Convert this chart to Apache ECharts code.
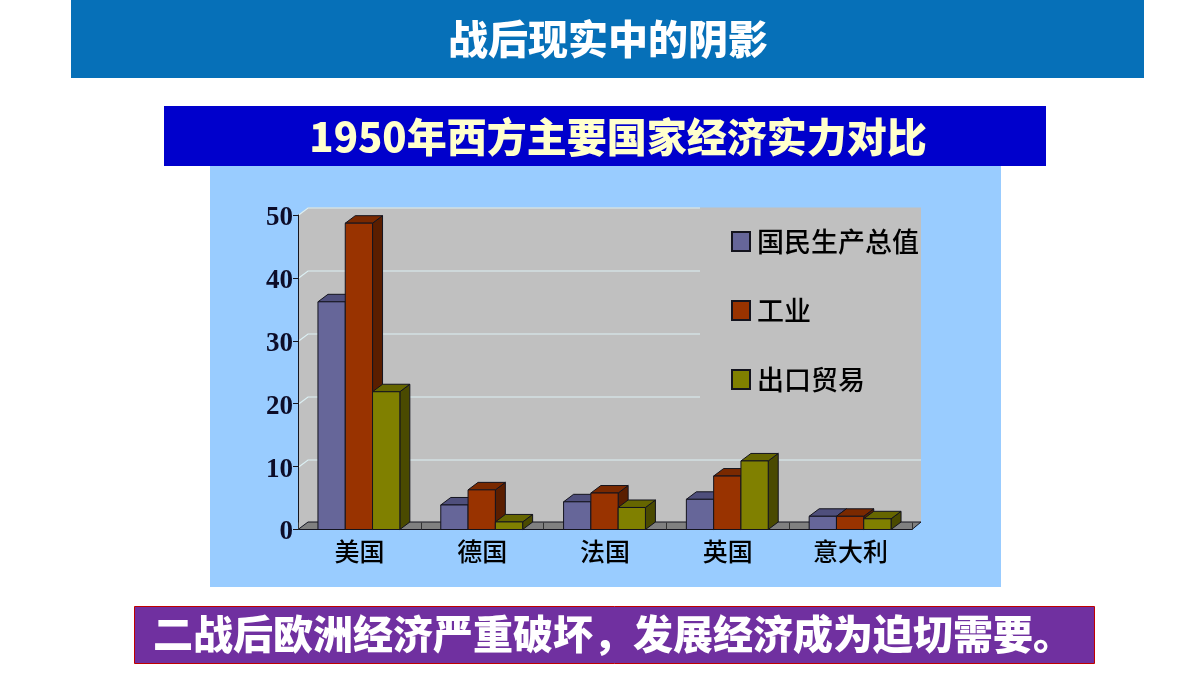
<!DOCTYPE html>
<html>
<head>
<meta charset="utf-8">
<style>html,body{margin:0;padding:0;background:#fff}#c{width:1200px;height:675px}</style>
<script src="https://cdn.jsdelivr.net/npm/echarts@6/dist/echarts.min.js"></script>
</head>
<body>
<div id="c"></div>
<script>
const headline = '战后现实中的阴影';
const subhead = '1950年西方主要国家经济实力对比';
const footer = '二战后欧洲经济严重破坏，发展经济成为迫切需要。';
const categories = ['美国', '德国', '法国', '英国', '意大利'];
const gnp = [36.2, 3.9, 4.4, 4.8, 2.1];
const industry = [48.7, 6.3, 5.8, 8.5, 2.1];
const exportsTrade = [21.9, 1.2, 3.5, 10.9, 1.7];
const seriesNames = ['国民生产总值', '工业', '出口贸易'];
const yTicks = [0, 10, 20, 30, 40, 50];

const CJK = '"Noto Sans CJK SC","Noto Sans",sans-serif';
const depthX = 10, depthY = 7.5, wallRight = 921, maskLeft = 700, maskAbove = 10;
const faces = [
  { front: '#666699', top: '#4f4f7c', side: '#3f3f66' },
  { front: '#993300', top: '#7a2900', side: '#5a1e00' },
  { front: '#808000', top: '#666600', side: '#4a4a00' }
];
const outline = '#14141e';

function poly(points, fill, stroke, width) {
  return { type: 'polygon', shape: { points }, style: { fill, stroke: stroke || null, lineWidth: width || 0 } };
}

function renderWall(params, api) {
  const o = api.coord([0, 0]), t = api.coord([0, 50]);
  const left = params.coordSys.x, right = left + params.coordSys.width;
  const y0 = o[1], y1 = t[1];
  return { type: 'group', children: [
    poly([[left, y1], [left + depthX, y1 - depthY], [wallRight, y1 - depthY], [wallRight, y0 - depthY], [left + depthX, y0 - depthY], [left, y0]], '#c0c0c0'),
    poly([[left, y0], [left + depthX, y0 - depthY], [wallRight, y0 - depthY], [right, y0]], '#808080', outline, 1)
  ]};
}

function renderGrid(params, api) {
  const v = api.value(1);
  const y = Math.round(api.coord([0, v])[1]) + 0.5;
  const left = params.coordSys.x;
  const end = v > maskAbove ? maskLeft : wallRight;
  return { type: 'polyline', shape: { points: [[left, y], [left + depthX, y - depthY], [end, y - depthY]] },
    style: { fill: null, stroke: '#dcf0f4', lineWidth: 1.2 } };
}

function renderBar(idx) {
  return function (params, api) {
    const c = api.value(0), v = api.value(1);
    const band = api.size([1, 0])[0];
    const w = band * 2 / 9;
    const p = api.coord([c, v]), base = api.coord([c, 0]);
    const x0 = p[0] + (idx - 1.5) * w - 0.5, x1 = x0 + w;
    const yt = p[1], yb = base[1];
    const f = faces[idx];
    return { type: 'group', children: [
      poly([[x1, yt], [x1 + depthX, yt - depthY], [x1 + depthX, yb - depthY], [x1, yb]], f.side, outline, 1),
      poly([[x0, yt], [x0 + depthX, yt - depthY], [x1 + depthX, yt - depthY], [x1, yt]], f.top, outline, 1),
      poly([[x0, yt], [x1, yt], [x1, yb], [x0, yb]], f.front, outline, 1)
    ]};
  };
}

const valueSets = [gnp, industry, exportsTrade];
const barSeries = seriesNames.map((name, i) => ({
  name, type: 'custom', z: 5, silent: true,
  renderItem: renderBar(i),
  encode: { x: 0, y: 1 },
  itemStyle: { color: faces[i].front, borderColor: outline, borderWidth: 1 },
  data: valueSets[i].map((v, k) => [k, v])
}));

const chart = echarts.init(document.getElementById('c'), null, { renderer: 'canvas' });
chart.setOption({
  animation: false,
  backgroundColor: '#ffffff',
  graphic: [
    { type: 'rect', z: 0, shape: { x: 71, y: 0, width: 1073, height: 78 }, style: { fill: '#0670b8' } },
    { type: 'rect', z: 0, shape: { x: 210, y: 166, width: 791, height: 421 }, style: { fill: '#99ccff' } },
    { type: 'rect', z: 0, shape: { x: 164, y: 106, width: 882, height: 60 }, style: { fill: '#0000cc' } },
    { type: 'rect', z: 0, shape: { x: 134.5, y: 606.5, width: 960, height: 57 }, style: { fill: '#7030a0', stroke: '#c00000', lineWidth: 1 } }
  ],
  title: [
    { text: headline, left: 608, top: 39, textAlign: 'center', textVerticalAlign: 'middle', padding: 0,
      textStyle: { fontFamily: CJK, fontSize: 40, fontWeight: 900, color: '#ffffff' } },
    { text: subhead, left: 618, top: 137, textAlign: 'center', textVerticalAlign: 'middle', padding: 0,
      textStyle: { fontFamily: CJK, fontSize: 40, fontWeight: 900, color: '#ffffcc' } },
    { text: footer, left: 613, top: 634, textAlign: 'center', textVerticalAlign: 'middle', padding: 0,
      textStyle: { fontFamily: CJK, fontSize: 40, fontWeight: 900, color: '#ffffff' } }
  ],
  grid: { left: 298, width: 614, top: 215, height: 314.5, containLabel: false },
  legend: {
    orient: 'vertical', left: 731, top: 222, data: seriesNames, icon: 'rect', selectedMode: false,
    itemWidth: 18, itemHeight: 19, itemGap: 30, padding: 0,
    textStyle: { fontFamily: CJK, fontSize: 27, fontWeight: 500, color: '#000000', padding: [0, 0, 0, 2], lineHeight: 39 }
  },
  xAxis: {
    type: 'category', data: categories, z: 4,
    axisLine: { show: true, lineStyle: { color: outline, width: 1 } },
    axisTick: { show: true, inside: true, length: 7, lineStyle: { color: '#333333', width: 1 } },
    axisLabel: { fontFamily: CJK, fontSize: 25, fontWeight: 500, color: '#000000', margin: 9 },
    splitLine: { show: false }
  },
  yAxis: {
    type: 'value', min: 0, max: 50, interval: 10, z: 4,
    axisLine: { show: true, lineStyle: { color: outline, width: 1 } },
    axisTick: { show: true, length: 5, lineStyle: { color: outline, width: 1 } },
    axisLabel: { fontFamily: '"Liberation Serif",serif', fontSize: 27, fontWeight: 'bold', color: '#0c0c28', margin: 5, verticalAlign: 'top', lineHeight: 6 },
    splitLine: { show: false }
  },
  series: [
    { type: 'custom', name: 'wall', z: 1, silent: true, renderItem: renderWall, encode: { x: 0, y: 1 }, data: [[0, 0]] },
    { type: 'custom', name: 'gridlines', z: 2, silent: true, renderItem: renderGrid, encode: { x: 0, y: 1 },
      data: yTicks.slice(1).map(v => [0, v]) }
  ].concat(barSeries)
});
</script>
</body>
</html>
